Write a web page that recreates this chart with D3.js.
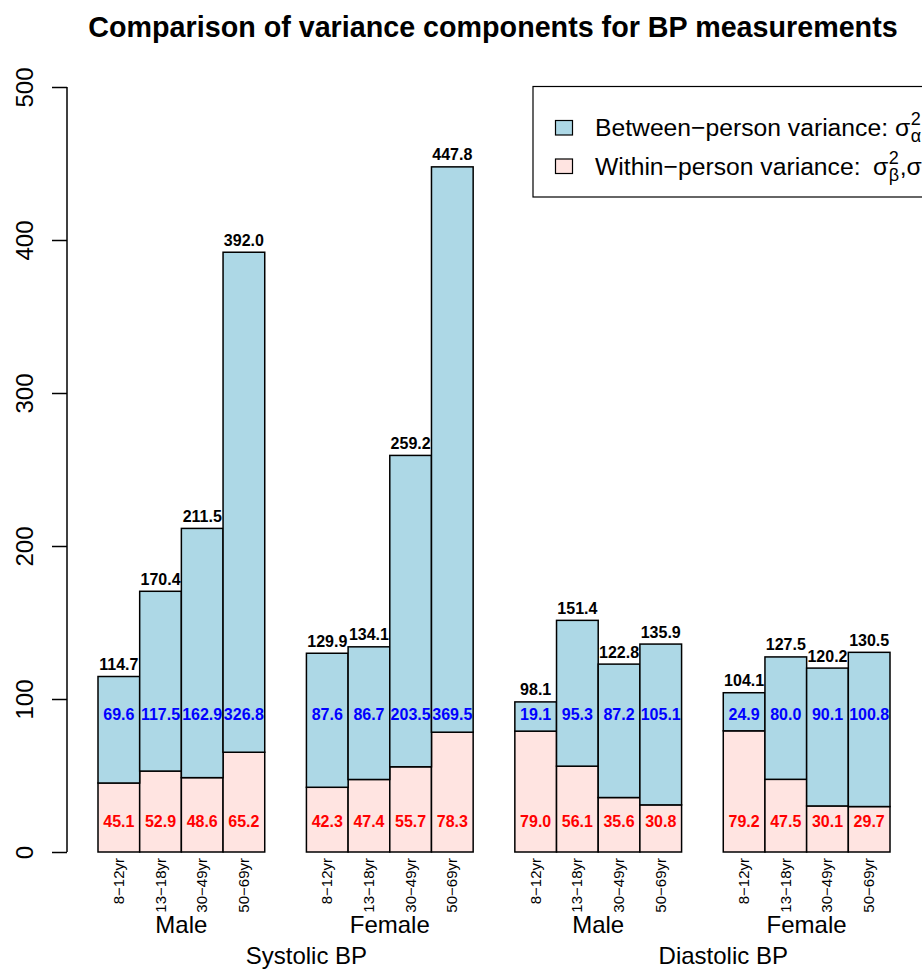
<!DOCTYPE html>
<html>
<head>
<meta charset="utf-8">
<script src="https://cdn.jsdelivr.net/npm/d3@7"></script>
<style>
  html, body { margin: 0; padding: 0; background: #fff; }
  svg { display: block; font-family: "Liberation Sans", Arial, Helvetica, sans-serif; }
  .keep-space { white-space: pre; }
</style>
</head>
<body>
<svg id="chart" width="922" height="971"></svg>
<script>
// Age groups within each sex panel
const ageGroups = ["8\u221212yr", "13\u221218yr", "30\u221249yr", "50\u221269yr"];
const sexes = ["Male", "Female"];
const measures = ["Systolic BP", "Diastolic BP"];

// Variance components (between-person on top of within-person)
const sysMaleBetween   = [69.6, 117.5, 162.9, 326.8];
const sysMaleWithin    = [45.1, 52.9, 48.6, 65.2];
const sysFemaleBetween = [87.6, 86.7, 203.5, 369.5];
const sysFemaleWithin  = [42.3, 47.4, 55.7, 78.3];
const diaMaleBetween   = [19.1, 95.3, 87.2, 105.1];
const diaMaleWithin    = [79.0, 56.1, 35.6, 30.8];
const diaFemaleBetween = [24.9, 80.0, 90.1, 100.8];
const diaFemaleWithin  = [79.2, 47.5, 30.1, 29.7];

const yTicks = [0, 100, 200, 300, 400, 500];

const panels = [
  { measure: 0, sex: 0, between: sysMaleBetween, within: sysMaleWithin },
  { measure: 0, sex: 1, between: sysFemaleBetween, within: sysFemaleWithin },
  { measure: 1, sex: 0, between: diaMaleBetween, within: diaMaleWithin },
  { measure: 1, sex: 1, between: diaFemaleBetween, within: diaFemaleWithin }
];

const svg = d3.select("#chart");
const col = { between: "#ADD8E6", within: "#FFE4E1" };

// Bars occupy slots: 4 per panel plus one empty slot between panels
const nSlots = panels.length * (ageGroups.length + 1) - 1;
const x = d3.scaleLinear().domain([0, nSlots]).range([98, 890]);
const bw = x(1) - x(0);
const y = d3.scaleLinear().domain([0, 500]).range([852, 87]);

const bars = [];
panels.forEach((p, pi) => {
  ageGroups.forEach((a, i) => {
    const slot = pi * (ageGroups.length + 1) + i;
    bars.push({ slot, age: a, between: p.between[i], within: p.within[i] });
  });
});

// Title
svg.append("text")
  .attr("x", 493).attr("y", 37)
  .attr("text-anchor", "middle")
  .attr("font-size", 28.7).attr("font-weight", "bold")
  .text("Comparison of variance components for BP measurements");

// Y axis
const yAxis = d3.axisLeft(y).tickValues(yTicks).tickSize(15).tickFormat(d3.format("d"));
const yg = svg.append("g").attr("transform", "translate(67,0)").call(yAxis);
yg.select(".domain").attr("d", `M0,${y(0)}V${y(500)}`).attr("stroke", "#000").attr("stroke-width", 1.5);
yg.selectAll(".tick line").attr("stroke", "#000").attr("stroke-width", 1.5);
yg.selectAll(".tick text")
  .attr("font-size", 24).attr("font-family", "Liberation Sans, Arial, sans-serif")
  .attr("fill", "#000")
  .attr("x", null).attr("dy", null)
  .attr("text-anchor", "middle")
  .attr("transform", "translate(-34,0) rotate(-90)");

// Stacked bars
const bg = svg.append("g");
bg.selectAll("rect.within").data(bars).enter().append("rect")
  .attr("x", d => x(d.slot)).attr("width", bw)
  .attr("y", d => y(d.within)).attr("height", d => y(0) - y(d.within))
  .attr("fill", col.within).attr("stroke", "#000").attr("stroke-width", 1.5);
bg.selectAll("rect.between").data(bars).enter().append("rect")
  .attr("x", d => x(d.slot)).attr("width", bw)
  .attr("y", d => y(d.within + d.between)).attr("height", d => y(d.within) - y(d.within + d.between))
  .attr("fill", col.between).attr("stroke", "#000").attr("stroke-width", 1.5);

// Value labels
const lbl = svg.append("g").attr("font-weight", "bold").attr("font-size", 16).attr("text-anchor", "middle");
lbl.selectAll("text.tot").data(bars).enter().append("text")
  .attr("x", d => x(d.slot + 0.5)).attr("y", d => y(d.within + d.between) - 6.5)
  .attr("fill", "#000")
  .text(d => (d.within + d.between).toFixed(1));
lbl.selectAll("text.btw").data(bars).enter().append("text")
  .attr("x", d => x(d.slot + 0.5)).attr("y", y(90)).attr("dy", "0.36em")
  .attr("fill", "#0000FF")
  .text(d => d.between.toFixed(1));
lbl.selectAll("text.wth").data(bars).enter().append("text")
  .attr("x", d => x(d.slot + 0.5)).attr("y", y(20)).attr("dy", "0.36em")
  .attr("fill", "#FF0000")
  .text(d => d.within.toFixed(1));

// Age-group labels (vertical)
svg.append("g").selectAll("text").data(bars).enter().append("text")
  .attr("transform", d => `translate(${x(d.slot + 0.5) + 5},858) rotate(-90)`)
  .attr("text-anchor", "end").attr("font-size", 15)
  .text(d => d.age);

// Sex labels under each panel
svg.append("g").selectAll("text").data(panels).enter().append("text")
  .attr("x", (p, pi) => x(pi * (ageGroups.length + 1) + ageGroups.length / 2))
  .attr("y", 933).attr("text-anchor", "middle").attr("font-size", 24)
  .text(p => sexes[p.sex]);

// Measure labels
svg.append("g").selectAll("text").data(measures).enter().append("text")
  .attr("x", (m, mi) => x((mi * 2 + 1) * (ageGroups.length + 1)))
  .attr("y", 964).attr("text-anchor", "middle").attr("font-size", 24)
  .text(m => m);

// Legend
const lg = svg.append("g");
lg.append("rect").attr("x", 533).attr("y", 86.5).attr("width", 420).attr("height", 110.5)
  .attr("fill", "#fff").attr("stroke", "#000").attr("stroke-width", 1.2);

// sigma with a stacked superscript 2 and a subscript
function sigma(g, x0, yb, sub) {
  const s = g.append("text").attr("x", x0).attr("y", yb).attr("font-size", 24.7).text("\u03C3");
  const w = s.node().getComputedTextLength() + 0.5;
  g.append("text").attr("x", x0 + w).attr("y", yb - 11).attr("font-size", 18).text("2");
  g.append("text").attr("x", x0 + w).attr("y", yb + 6).attr("font-size", 18).text(sub);
  return x0 + w + 11;
}

const legendRows = [
  { fill: col.between, label: "Between\u2212person variance:", subs: ["\u03B1"], yb: 136, sx: 895 },
  { fill: col.within, label: "Within\u2212person variance:", subs: ["\u03B2", "e"], yb: 174.5, sx: 873 }
];
legendRows.forEach(r => {
  const row = lg.append("g");
  row.append("rect").attr("x", 555.5).attr("y", r.yb - 15.5).attr("width", 17).attr("height", 14.5)
    .attr("fill", r.fill).attr("stroke", "#000").attr("stroke-width", 1.2);
  row.append("text").attr("class", "keep-space")
    .attr("x", 595).attr("y", r.yb).attr("font-size", 24.7).text(r.label);
  let cx = r.sx;
  r.subs.forEach((s, si) => {
    if (si > 0) {
      const c = row.append("text").attr("x", cx).attr("y", r.yb).attr("font-size", 24.7).text(",");
      cx += c.node().getComputedTextLength();
    }
    cx = sigma(row, cx, r.yb, s);
  });
});
</script>
</body>
</html>
